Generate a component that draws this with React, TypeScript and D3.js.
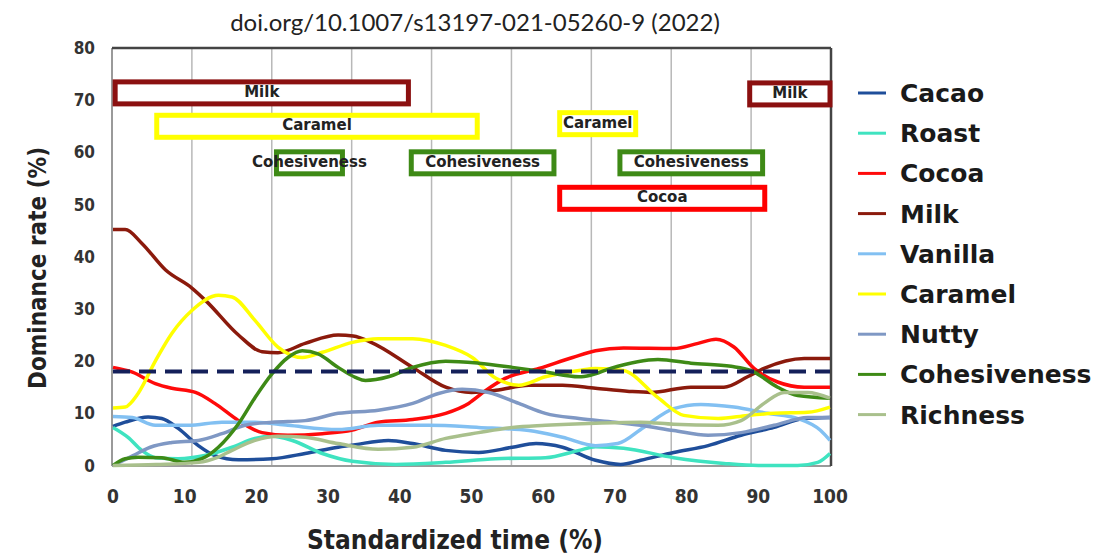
import React from 'react';
import * as d3 from 'd3';

// time-intensity curves, [standardized time %, dominance rate %]
const cacao = [[0,7.5],[1.7,8.3],[4.9,9.3],[6.8,9.0],[9.1,7.1],[11.9,3.8],[14.2,1.9],[17.5,1.1],[22.2,1.3],[26.8,2.3],[31.4,3.5],[33.8,4.0],[38.4,4.8],[41.8,4.2],[46.4,2.9],[51,2.5],[55.7,3.5],[59,4.2],[62.7,3.5],[67.3,1.0],[70.8,0.2],[73.6,1],[78.2,2.5],[83,3.8],[87.6,5.8],[92.2,7.3],[96.4,9],[100,9.2]];
const roast = [[0,7.3],[2.1,5.4],[4,2.9],[5.9,1.5],[9.1,1.3],[12.8,1.9],[16.6,3.5],[19.8,5.2],[22.2,5.6],[25,4.8],[29.2,2.3],[33.4,0.8],[39.4,0.2],[46.4,0.6],[53.4,1.3],[60.3,1.5],[65,2.9],[67.3,3.6],[71.2,3.3],[78.2,1.5],[85.2,0.4],[90,0],[95.5,0],[98.3,0.6],[100,2.3]];
const cocoa = [[0,18.8],[2.7,17.9],[5.9,15.7],[8.2,14.8],[11.5,14],[14.2,11.9],[17.5,8.6],[20.8,6.3],[24.4,5.8],[29.2,6.1],[33.4,6.8],[37,8.3],[41.8,8.8],[46.4,10],[49.6,11.9],[52,14.4],[54.7,16.7],[59.4,18.6],[64.1,20.7],[67.3,22],[71.2,22.5],[78.2,22.4],[81.6,23.4],[84.1,24.2],[86.6,22.7],[89.4,18.6],[92.7,16],[96.4,15],[100,15]];
const milk = [[0,45.2],[1.7,45.2],[4,42.6],[7.3,37.5],[11,34],[13,31.5],[17.5,25],[20.8,21.8],[23,21.6],[26.8,23.4],[31.4,25],[33.5,24.8],[36,23.6],[41.8,18.8],[46.4,15],[50,14],[53.4,14.4],[58,15.4],[62.7,15.4],[67.3,14.8],[72,14.2],[75,14],[80.6,15],[85.2,15],[88.5,17],[90.8,18.6],[96.4,20.5],[100,20.5]];
const vanilla = [[0,9.4],[2.7,9.2],[5.9,7.7],[10.5,7.7],[15.2,8.3],[19.8,8.3],[24.4,7.7],[31.4,6.9],[37,7.7],[44,7.7],[51,7.3],[58,6.7],[62.7,5.4],[67.3,3.8],[70.4,4.2],[74,7.3],[78.2,10.9],[82,11.7],[86.6,11.2],[91.3,10],[95.5,9],[98.7,6.7],[100,4.8]];
const caramel = [[0,11],[1.7,11.2],[3.5,13.8],[5.9,20],[8.2,25.3],[11,29.7],[14.7,32.6],[16.6,32.3],[19.8,27.8],[23,22.7],[26.4,20.7],[29.2,21.7],[33.4,23.6],[37,24.3],[41.8,24.3],[46.4,23],[50.1,20.7],[53.4,16.7],[56.6,15.4],[60.3,17],[65,18.2],[67.3,18.6],[71.2,18.2],[76,13],[79.6,9.6],[84.4,9],[88.5,9.6],[92.2,10],[96.9,10.2],[100,11.2]];
const nutty = [[0,0],[2.8,1.9],[5.2,3.5],[8.2,4.4],[11.9,4.8],[15.2,6.1],[18.4,7.7],[22.2,8.3],[26.8,8.6],[31.4,10],[37,10.6],[41.8,11.9],[45.4,13.8],[48.7,14.6],[52.4,14],[56.6,11.9],[60.3,10],[65,9],[70,8.3],[73.6,7.7],[78.2,6.7],[83,5.8],[87.6,6.3],[92.2,7.7],[96.9,9.2],[100,9.2]];
const cohesiveness = [[0,0],[1.7,1.3],[3.5,1.6],[6.8,1.5],[10,0.6],[12.4,1.3],[14.7,3.5],[17.5,8],[19.8,13],[22.2,17.6],[24.4,20.7],[26.4,22],[28.6,21.4],[31.4,18.8],[33.8,16.9],[35.2,16.3],[38.4,17],[41.8,18.8],[46.4,20],[51,19.6],[55.7,18.8],[60.3,17.9],[65,17],[66.6,17.3],[69.4,18.6],[76,20.3],[80.6,19.6],[86.2,19],[89,18.2],[92.7,15],[95.5,13.4],[100,12.9]];
const richness = [[0,0],[6,0.2],[12,0.6],[14.5,1.5],[16.6,2.9],[19.8,4.8],[23,5.6],[26.8,5.4],[31.4,4.2],[37,3.1],[41.8,3.5],[46.4,5.2],[51,6.3],[55.7,7.3],[60.3,7.7],[67.3,8.1],[73.6,8.3],[78.2,7.9],[84.4,7.7],[87.6,8.6],[90.8,11.9],[93.6,14],[96.9,14],[100,12.9]];

const seriesNames = ['Cacao', 'Roast', 'Cocoa', 'Milk', 'Vanilla', 'Caramel', 'Nutty', 'Cohesiveness', 'Richness'];
const seriesData = [cacao, roast, cocoa, milk, vanilla, caramel, nutty, cohesiveness, richness];
const seriesColors = ['#1f4e9a', '#3fe3c0', '#ff0a0a', '#8b1a0c', '#82c0f2', '#ffff00', '#7f98c4', '#3e8a16', '#a9c08c'];

// significance level
const chanceLevel = 18;

// dominance bands: label, start, end, value
const bandLabels = ['Milk', 'Caramel', 'Cohesiveness', 'Cohesiveness', 'Caramel', 'Cohesiveness', 'Cocoa', 'Milk'];
const bandStart = [0.3, 6.1, 22.8, 41.6, 62.3, 70.7, 62.3, 88.8];
const bandEnd = [41.2, 50.8, 32, 61.5, 72.9, 90.6, 90.9, 100];
const bandValue = [71.4, 65, 58, 58, 65.5, 58, 51.2, 71.2];
const bandColors = ['#8b1010', '#ffff00', '#3e8a16', '#3e8a16', '#ffff00', '#3e8a16', '#ff0000', '#8b1010'];

const xTicks = [0, 10, 20, 30, 40, 50, 60, 70, 80, 90, 100];
const yTicks = [0, 10, 20, 30, 40, 50, 60, 70, 80];

const App: React.FC = () => {
  const left = 112, right = 831, top = 48, bottom = 466;
  const x = d3.scaleLinear().domain([0, 100]).range([113, 830]);
  const y = d3.scaleLinear().domain([0, 80]).range([465.5, 48]);
  const grid = d3.scaleLinear().domain([0, 9]).range([left, right]);
  const line = d3.line<number[]>()
    .x(d => x(d[0]))
    .y(d => y(d[1]))
    .curve(d3.curveMonotoneX);
  const bandH = 22;
  const boldFont = "'DejaVu Sans', Verdana, sans-serif";
  const axisFont = "'Liberation Sans Narrow', 'DejaVu Sans Condensed', 'Liberation Sans', sans-serif";

  return (
    <svg width={1102} height={560} style={{ position: 'absolute', left: 0, top: 0, background: '#fff' }}>
      <text x={475} y={31} textAnchor="middle" fontFamily="Lato, 'Open Sans', sans-serif" fontSize={24} fill="#222">
        doi.org/10.1007/s13197-021-05260-9 (2022)
      </text>

      {/* gridlines */}
      {d3.range(1, 9).map(i => (
        <line key={i} x1={grid(i)} x2={grid(i)} y1={top} y2={bottom} stroke="#b8b8b8" strokeWidth={1.5} />
      ))}

      {/* frame */}
      <line x1={left} x2={left} y1={top} y2={bottom} stroke="#9a9a9a" strokeWidth={2} />
      <line x1={left} x2={right} y1={bottom} y2={bottom} stroke="#9a9a9a" strokeWidth={2} />
      <line x1={left} x2={right} y1={top} y2={top} stroke="#444" strokeWidth={2.5} />
      <line x1={right} x2={right} y1={top} y2={bottom} stroke="#444" strokeWidth={2.5} />

      {/* bands */}
      {bandLabels.map((lab, i) => (
        <g key={i}>
          <rect x={x(bandStart[i])} y={y(bandValue[i]) - bandH / 2} width={x(bandEnd[i]) - x(bandStart[i])} height={bandH}
            fill="#fff" stroke={bandColors[i]} strokeWidth={5} />
          <text x={(x(bandStart[i]) + x(bandEnd[i])) / 2} y={y(bandValue[i]) + 4} textAnchor="middle"
            fontFamily={boldFont} fontWeight="bold" fontSize={15} fill="#222">{lab}</text>
        </g>
      ))}

      {/* series */}
      {seriesData.map((d, i) => (
        <path key={seriesNames[i]} d={line(d) || ''} fill="none" stroke={seriesColors[i]} strokeWidth={3.5} strokeLinejoin="round" />
      ))}

      {/* chance level */}
      <line x1={x(0)} x2={x(100)} y1={y(chanceLevel)} y2={y(chanceLevel)} stroke="#14205a" strokeWidth={4} strokeDasharray="17 9" />

      {/* y axis */}
      {yTicks.map(t => (
        <text key={t} x={95} y={y(t) + 6} textAnchor="end" fontFamily={axisFont} fontWeight="bold" fontSize={17} fill="#333">{t}</text>
      ))}
      {/* x axis */}
      {xTicks.map(t => (
        <text key={t} x={x(t)} y={503} textAnchor="middle" fontFamily={axisFont} fontWeight="bold" fontSize={19} fill="#333">{t}</text>
      ))}

      <text x={455} y={549} textAnchor="middle" fontFamily={axisFont} fontWeight="bold" fontSize={26} fill="#222">
        Standardized time  (%)
      </text>
      <text transform="translate(46,268) rotate(-90)" textAnchor="middle" fontFamily={axisFont} fontWeight="bold" fontSize={24} fill="#222">
        Dominance rate  (%)
      </text>

      {/* legend */}
      {seriesNames.map((name, i) => (
        <g key={name} transform={`translate(858,${93 + i * 40.2})`}>
          <line x1={0} x2={28} y1={0} y2={0} stroke={seriesColors[i]} strokeWidth={3} />
          <text x={42} y={9} fontFamily={boldFont} fontWeight="bold" fontSize={25} fill="#1a1a1a">{name}</text>
        </g>
      ))}
    </svg>
  );
};

export default App;
